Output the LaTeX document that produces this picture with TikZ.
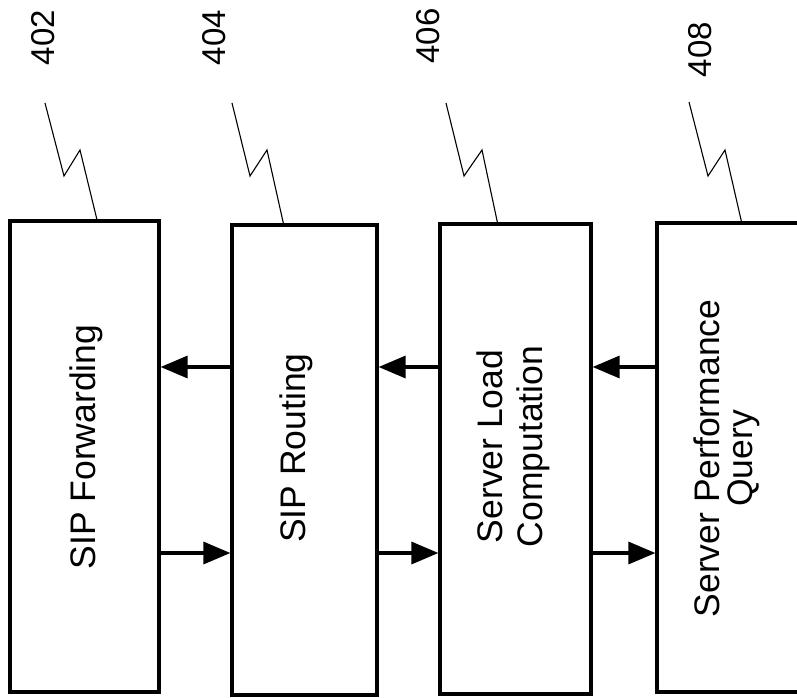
\documentclass[tikz,border=0pt]{standalone}
\usepackage{fontspec}
\setmainfont{Liberation Sans}
\usetikzlibrary{arrows.meta}
\begin{document}
\begin{tikzpicture}[x=1pt,y=-1pt,
  blk/.style={draw,line width=3.2pt,inner sep=0pt},
  txt/.style={rotate=90,inner sep=0pt,align=center,font=\fontsize{35.5}{40}\selectfont},
  num/.style={rotate=90,inner sep=0pt,font=\fontsize{33}{38}\selectfont},
  lead/.style={line width=1.1pt},
  arr/.style={line width=3.2pt,-{Triangle[length=27pt,width=22pt]}}]
\clip (0,0) rectangle (797,697);
\fill[white] (0,0) rectangle (797,697);
% boxes
\node[blk,minimum width=149pt,minimum height=471pt] (b1) at (84.5,456.5) {};
\node[blk,minimum width=145pt,minimum height=470pt] (b2) at (304.5,460) {};
\node[blk,minimum width=151pt,minimum height=470pt] (b3) at (515.5,459) {};
\node[blk,minimum width=153pt,minimum height=469pt] (b4) at (733.5,457.5) {};
% box texts
\node[txt] (t1) at (86,447) {SIP Forwarding};
\node[txt] (t2) at (296,448) {SIP Routing};
\node[txt] (t3) at (513.5,446.5) {Server Load\\Computation};
\node[txt,font=\fontsize{35.5}{33}\selectfont] (t4) at (727,458.5) {Server Performance\\Query};
% reference numbers
\node[num] (n402) at (43.5,37.5) {402};
\node[num] (n404) at (214.5,37.5) {404};
\node[num] (n406) at (428,36) {406};
\node[num] (n408) at (700,49.5) {408};
% leader lines
\coordinate (a1) at (45,103);  \coordinate (a2) at (64,176);  \coordinate (a3) at (80,150);
\coordinate (c1) at (232,103); \coordinate (c2) at (250,176); \coordinate (c3) at (267,150);
\coordinate (d1) at (446,103); \coordinate (d2) at (464,176); \coordinate (d3) at (482,150);
\coordinate (e1) at (689,102); \coordinate (e2) at (708,176); \coordinate (e3) at (725,150);
\draw[lead] (a1) -- (a2) -- (a3) -- ([xshift=88.5pt]b1.north west);
\draw[lead] (c1) -- (c2) -- (c3) -- ([xshift=53pt]b2.north west);
\draw[lead] (d1) -- (d2) -- (d3) -- ([xshift=59pt]b3.north west);
\draw[lead] (e1) -- (e2) -- (e3) -- ([xshift=86pt]b4.north west);
% arrows
\coordinate (up) at (0,367);
\coordinate (lo) at (0,553);
\draw[arr] (b2.west |- up) -- (b1.east |- up);
\draw[arr] (b3.west |- up) -- (b2.east |- up);
\draw[arr] (b4.west |- up) -- (b3.east |- up);
\draw[arr] (b1.east |- lo) -- (b2.west |- lo);
\draw[arr] (b2.east |- lo) -- (b3.west |- lo);
\draw[arr] (b3.east |- lo) -- (b4.west |- lo);
\end{tikzpicture}
\end{document}
